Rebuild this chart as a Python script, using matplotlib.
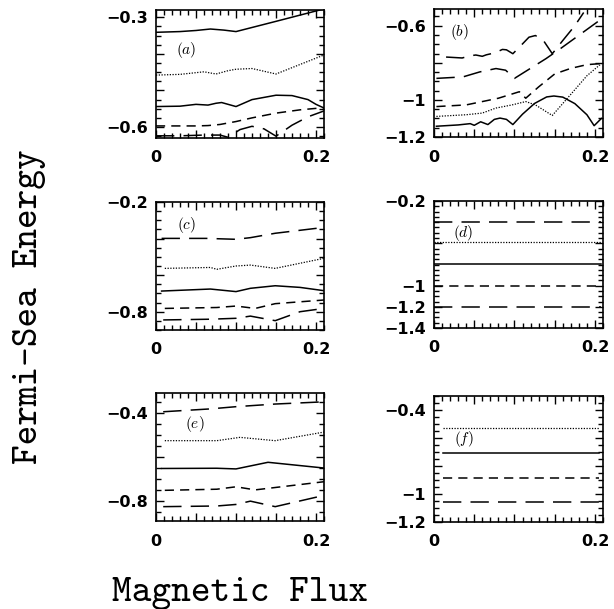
import numpy as np
import matplotlib
matplotlib.use("Agg")
import matplotlib.pyplot as plt
from matplotlib.ticker import MultipleLocator

plt.rcParams["mathtext.fontset"] = "cm"

# --- data (x = magnetic flux, y = Fermi-sea energy) ---

# panel (a)
a_top_x = [0, 0.03, 0.05, 0.068, 0.085, 0.1, 0.15, 0.21]
a_top_y = [-0.341, -0.339, -0.336, -0.332, -0.335, -0.339, -0.311, -0.277]
a_dot_x = [0, 0.03, 0.06, 0.075, 0.09, 0.1, 0.12, 0.15, 0.21]
a_dot_y = [-0.458, -0.456, -0.449, -0.455, -0.446, -0.442, -0.44, -0.455, -0.403]
a_sol_x = [0, 0.03, 0.05, 0.065, 0.075, 0.082, 0.1, 0.12, 0.15, 0.17, 0.19, 0.2, 0.21]
a_sol_y = [-0.544, -0.543, -0.538, -0.54, -0.535, -0.533, -0.544, -0.525, -0.513, -0.514, -0.525, -0.538, -0.548]
a_sd_x = [0, 0.05, 0.065, 0.08, 0.1, 0.12, 0.15, 0.18, 0.21]
a_sd_y = [-0.597, -0.597, -0.596, -0.593, -0.585, -0.575, -0.562, -0.553, -0.547]
a_ld_x = [0, 0.03, 0.06, 0.08, 0.09, 0.105, 0.12, 0.135, 0.15, 0.17, 0.19, 0.21]
a_ld_y = [-0.624, -0.624, -0.622, -0.622, -0.628, -0.607, -0.598, -0.605, -0.625, -0.595, -0.572, -0.556]

# panel (b)
b_top_x = [0.015, 0.035, 0.045, 0.052, 0.06, 0.065, 0.072, 0.078, 0.085, 0.09, 0.098,
           0.108, 0.118, 0.126, 0.136, 0.147, 0.16, 0.175, 0.186]
b_top_y = [-0.769, -0.774, -0.762, -0.758, -0.765, -0.757, -0.75, -0.742, -0.728, -0.73, -0.751,
           -0.707, -0.662, -0.653, -0.68, -0.751, -0.68, -0.6, -0.529]
b_ld_x = [0.003, 0.036, 0.057, 0.077, 0.089, 0.1, 0.139, 0.157, 0.208]
b_ld_y = [-0.884, -0.876, -0.849, -0.831, -0.84, -0.884, -0.778, -0.724, -0.564]
b_sd_x = [0.003, 0.04, 0.08, 0.106, 0.114, 0.13, 0.15, 0.17, 0.19, 0.208]
b_sd_y = [-1.036, -1.027, -0.991, -0.956, -0.991, -0.93, -0.86, -0.83, -0.81, -0.804]
b_dot_x = [0.003, 0.04, 0.06, 0.077, 0.097, 0.114, 0.126, 0.147, 0.17, 0.19, 0.208]
b_dot_y = [-1.089, -1.08, -1.071, -1.044, -1.027, -1.009, -1.027, -1.084, -0.97, -0.87, -0.804]
b_sol_x = [0.003, 0.03, 0.045, 0.05, 0.058, 0.067, 0.075, 0.082, 0.09, 0.098, 0.11, 0.125,
           0.14, 0.149, 0.16, 0.175, 0.19, 0.199, 0.208]
b_sol_y = [-1.142, -1.135, -1.128, -1.137, -1.118, -1.133, -1.105, -1.098, -1.105, -1.133, -1.077,
           -1.019, -0.984, -0.979, -0.985, -1.02, -1.08, -1.139, -1.1]

# panel (c)
c_ld1_x = [0.007, 0.063, 0.1, 0.118, 0.149, 0.21]
c_ld1_y = [-0.399, -0.399, -0.404, -0.395, -0.371, -0.339]
c_dot_x = [0.011, 0.068, 0.076, 0.1, 0.118, 0.149, 0.21]
c_dot_y = [-0.563, -0.558, -0.568, -0.55, -0.545, -0.563, -0.508]
c_sol_x = [0.007, 0.068, 0.1, 0.118, 0.149, 0.18, 0.21]
c_sol_y = [-0.687, -0.676, -0.69, -0.672, -0.658, -0.667, -0.685]
c_sd_x = [0.011, 0.076, 0.1, 0.124, 0.149, 0.21]
c_sd_y = [-0.782, -0.777, -0.769, -0.782, -0.756, -0.736]
c_ld2_x = [0.009, 0.068, 0.1, 0.118, 0.149, 0.18, 0.21]
c_ld2_y = [-0.845, -0.841, -0.836, -0.824, -0.849, -0.8, -0.782]

# panel (d): flat levels
d_x = [0, 0.208]
d_levels = [-0.396, -0.585, -0.795, -1.0, -1.205]

# panel (e)
e_ld1_x = [0.009, 0.068, 0.1, 0.149, 0.21]
e_ld1_y = [-0.395, -0.382, -0.372, -0.36, -0.35]
e_dot_x = [0.011, 0.076, 0.105, 0.149, 0.21]
e_dot_y = [-0.526, -0.526, -0.511, -0.526, -0.487]
e_sol_x = [0.007, 0.076, 0.1, 0.14, 0.21]
e_sol_y = [-0.652, -0.651, -0.654, -0.624, -0.65]
e_sd_x = [0.011, 0.076, 0.1, 0.124, 0.21]
e_sd_y = [-0.751, -0.746, -0.735, -0.749, -0.712]
e_ld2_x = [0.009, 0.076, 0.1, 0.118, 0.149, 0.21]
e_ld2_y = [-0.825, -0.822, -0.815, -0.8, -0.825, -0.774]

# panel (f): flat levels
f_x = [0.011, 0.205]
f_levels = [-0.526, -0.705, -0.884, -1.06]

SOLID = "-"
DOT = (0, (1, 1.2))
SHORT = (0, (6, 4))
LONG = (0, (12, 6))

fig = plt.figure(figsize=(6.14, 6.09), dpi=100)
W, H = 614, 609


def make_axes(left, top, right, bottom):
    return fig.add_axes([left / W, 1 - bottom / H, (right - left) / W, (bottom - top) / H])


def style_axes(ax, ylim, ymajor, ylabels, yminor, tag, tag_xy):
    ax.set_xlim(0, 0.21)
    ax.set_ylim(*ylim)
    ax.set_xticks([0, 0.05, 0.1, 0.15, 0.2])
    ax.set_xticklabels(["0", "", "", "", "0.2"])
    ax.xaxis.set_minor_locator(MultipleLocator(0.01))
    ax.set_yticks(ymajor)
    ax.set_yticklabels([ylabels.get(v, "") for v in ymajor])
    ax.yaxis.set_minor_locator(MultipleLocator(yminor))
    ax.tick_params(which="both", direction="in", top=True, right=True, width=1)
    ax.tick_params(which="major", length=6)
    ax.tick_params(which="minor", length=3.5)
    ax.tick_params(axis="x", pad=9)
    ax.tick_params(axis="y", pad=6)
    for lab in ax.get_xticklabels() + ax.get_yticklabels():
        lab.set_fontfamily("DejaVu Sans")
        lab.set_fontweight("bold")
        lab.set_fontsize(11.5)
    for sp in ax.spines.values():
        sp.set_linewidth(1.2)
    ax.text(tag_xy[0], tag_xy[1], tag, transform=ax.transAxes, fontsize=11,
            ha="center", va="center")


lw = 1.1

# (a)
ax = make_axes(156, 10, 324, 138)
ax.plot(a_top_x, a_top_y, color="black", lw=lw, ls=SOLID)
ax.plot(a_dot_x, a_dot_y, color="black", lw=0.9, ls=DOT)
ax.plot(a_sol_x, a_sol_y, color="black", lw=lw, ls=SOLID)
ax.plot(a_sd_x, a_sd_y, color="black", lw=lw, ls=SHORT)
ax.plot(a_ld_x, a_ld_y, color="black", lw=lw, ls=LONG)
style_axes(ax, (-0.63, -0.28), [-0.3, -0.4, -0.5, -0.6], {-0.3: "\u22120.3", -0.6: "\u22120.6"},
           0.025, r"$(a)$", (0.18, 0.69))

# (b)
ax = make_axes(434, 9, 603, 137)
ax.plot(b_top_x, b_top_y, color="black", lw=lw, ls=LONG)
ax.plot(b_ld_x, b_ld_y, color="black", lw=lw, ls=LONG)
ax.plot(b_sd_x, b_sd_y, color="black", lw=lw, ls=SHORT)
ax.plot(b_dot_x, b_dot_y, color="black", lw=0.9, ls=DOT)
ax.plot(b_sol_x, b_sol_y, color="black", lw=lw, ls=SOLID)
style_axes(ax, (-1.2, -0.51), [-0.6, -0.8, -1.0, -1.2],
           {-0.6: "\u22120.6", -1.0: "\u22121", -1.2: "\u22121.2"},
           0.05, r"$(b)$", (0.15, 0.82))

# (c)
ax = make_axes(156, 202, 324, 330)
ax.plot(c_ld1_x, c_ld1_y, color="black", lw=lw, ls=LONG)
ax.plot(c_dot_x, c_dot_y, color="black", lw=0.9, ls=DOT)
ax.plot(c_sol_x, c_sol_y, color="black", lw=lw, ls=SOLID)
ax.plot(c_sd_x, c_sd_y, color="black", lw=lw, ls=SHORT)
ax.plot(c_ld2_x, c_ld2_y, color="black", lw=lw, ls=LONG)
style_axes(ax, (-0.9, -0.2), [-0.2, -0.4, -0.6, -0.8], {-0.2: "\u22120.2", -0.8: "\u22120.8"},
           0.05, r"$(c)$", (0.18, 0.82))

# (d)
ax = make_axes(434, 201, 603, 328)
d_styles = [LONG, DOT, SOLID, SHORT, LONG]
for level, st in zip(d_levels, d_styles):
    ax.plot(d_x, [level, level], color="black", lw=0.9 if st == DOT else lw, ls=st)
style_axes(ax, (-1.4, -0.2), [-0.2, -0.6, -1.0, -1.2, -1.4],
           {-0.2: "\u22120.2", -1.0: "\u22121", -1.2: "\u22121.2", -1.4: "\u22121.4"},
           0.05, r"$(d)$", (0.17, 0.75))

# (e)
ax = make_axes(156, 393, 324, 521)
ax.plot(e_ld1_x, e_ld1_y, color="black", lw=lw, ls=LONG)
ax.plot(e_dot_x, e_dot_y, color="black", lw=0.9, ls=DOT)
ax.plot(e_sol_x, e_sol_y, color="black", lw=lw, ls=SOLID)
ax.plot(e_sd_x, e_sd_y, color="black", lw=lw, ls=SHORT)
ax.plot(e_ld2_x, e_ld2_y, color="black", lw=lw, ls=LONG)
style_axes(ax, (-0.89, -0.31), [-0.4, -0.6, -0.8], {-0.4: "\u22120.4", -0.8: "\u22120.8"},
           0.05, r"$(e)$", (0.23, 0.76))

# (f)
ax = make_axes(434, 396, 603, 522)
f_styles = [DOT, SOLID, SHORT, LONG]
for level, st in zip(f_levels, f_styles):
    ax.plot(f_x, [level, level], color="black", lw=0.9 if st == DOT else lw, ls=st)
style_axes(ax, (-1.2, -0.3), [-0.4, -0.6, -0.8, -1.0, -1.2],
           {-0.4: "\u22120.4", -1.0: "\u22121", -1.2: "\u22121.2"},
           0.05, r"$(f)$", (0.18, 0.66))

fig.text(30 / W, 1 - 307 / H, "Fermi-Sea Energy", rotation=90, ha="center", va="center",
         fontfamily="cmtt10", fontsize=27)
fig.text(240 / W, 1 - 593 / H, "Magnetic Flux", ha="center", va="center",
         fontfamily="cmtt10", fontsize=27)

fig.savefig("out.png", dpi=100)
